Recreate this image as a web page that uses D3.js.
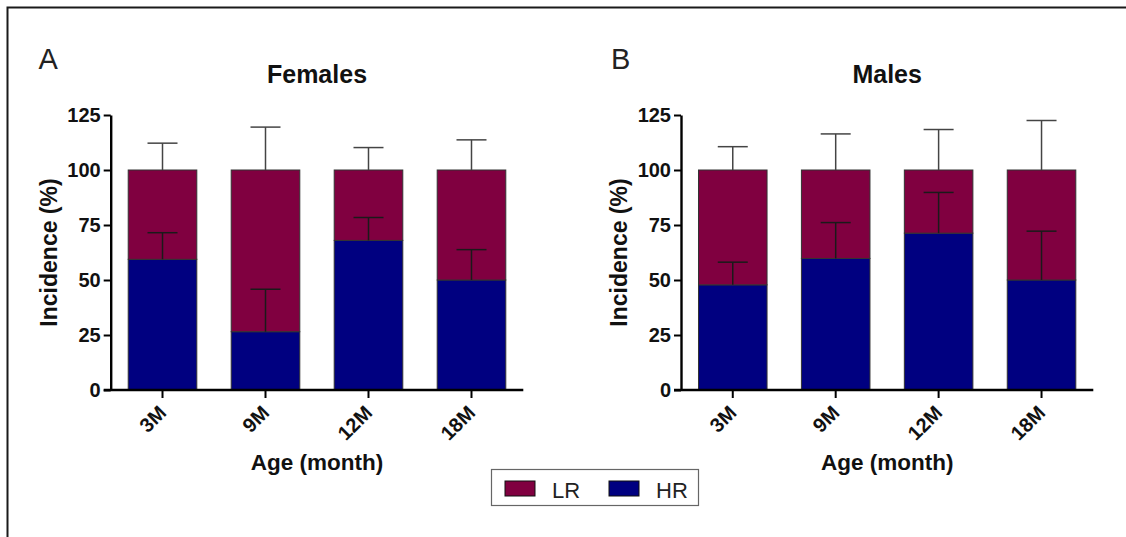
<!DOCTYPE html>
<html>
<head>
<meta charset="utf-8">
<script src="https://cdn.jsdelivr.net/npm/d3@7"></script>
<style>
  body { margin: 0; background: #fff; }
  svg { display: block; font-family: "Liberation Sans", Arial, sans-serif; }
</style>
</head>
<body>
<svg width="1126" height="537"></svg>
<script>
const categories = ['3M', '9M', '12M', '18M'];
const yTicks = [0, 25, 50, 75, 100, 125];

// HR share (%) and error bars; LR = 100 - HR
const femaleHR = [59.4, 26.5, 68.0, 50.0];
const femaleHRErr = [12.1, 19.3, 10.4, 13.8];
const femaleLRErr = [12.2, 19.5, 10.2, 13.7];

const maleHR = [47.8, 59.8, 71.3, 50.0];
const maleHRErr = [10.3, 16.3, 18.5, 22.2];
const maleLRErr = [10.6, 16.4, 18.4, 22.5];

const seriesNames = ['LR', 'HR'];
const colors = { LR: '#800040', HR: '#000080' };

const svg = d3.select('svg');

// outer frame (left + top edges)
svg.append('path')
    .attr('d', 'M7.5,537 V7.5 H1126')
    .attr('fill', 'none')
    .attr('stroke', '#1a1a1a')
    .attr('stroke-width', 2);

const panels = [
    { letter: 'A', title: 'Females', hr: femaleHR, hrErr: femaleHRErr, lrErr: femaleLRErr, left: 110.7, right: 523.3, letterX: 38.5 },
    { letter: 'B', title: 'Males', hr: maleHR, hrErr: maleHRErr, lrErr: maleLRErr, left: 681, right: 1093.3, letterX: 611 }
];

const plotTop = 115, plotBottom = 390;

panels.forEach(p => {
    const g = svg.append('g');

    const x = d3.scaleBand()
        .domain(categories)
        .range([p.left, p.right])
        .paddingInner(0.334)
        .paddingOuter(0.17);

    const y = d3.scaleLinear().domain([0, 125]).range([plotBottom, plotTop]);

    const rows = categories.map((c, i) => ({
        cat: c, hr: p.hr[i], lr: 100 - p.hr[i], hrErr: p.hrErr[i], lrErr: p.lrErr[i]
    }));
    const stack = d3.stack().keys(['hr', 'lr'])(rows);

    // bars
    g.selectAll('g.layer')
        .data(stack)
        .enter().append('g')
        .attr('class', 'layer')
        .attr('fill', d => d.key === 'hr' ? colors.HR : colors.LR)
        .selectAll('rect')
        .data(d => d)
        .enter().append('rect')
        .attr('x', d => x(d.data.cat))
        .attr('width', x.bandwidth())
        .attr('y', d => y(d[1]))
        .attr('height', d => y(d[0]) - y(d[1]))
        .attr('stroke', '#333')
        .attr('stroke-width', 1);

    // error bars (upward)
    const capW = 15;
    const errs = [];
    rows.forEach(r => {
        errs.push({ cat: r.cat, base: r.hr, end: r.hr + r.hrErr, color: '#1a1a1a' });
        errs.push({ cat: r.cat, base: 100, end: 100 + r.lrErr, color: '#444' });
    });
    const eg = g.selectAll('g.err').data(errs).enter().append('g')
        .attr('class', 'err')
        .attr('stroke', d => d.color)
        .attr('stroke-width', 1.5);
    eg.append('line')
        .attr('x1', d => x(d.cat) + x.bandwidth() / 2)
        .attr('x2', d => x(d.cat) + x.bandwidth() / 2)
        .attr('y1', d => y(d.base))
        .attr('y2', d => y(d.end));
    eg.append('line')
        .attr('x1', d => x(d.cat) + x.bandwidth() / 2 - capW)
        .attr('x2', d => x(d.cat) + x.bandwidth() / 2 + capW)
        .attr('y1', d => y(d.end))
        .attr('y2', d => y(d.end));

    // y axis
    const yAxis = g.append('g')
        .attr('transform', `translate(${p.left},0)`)
        .call(d3.axisLeft(y).tickValues(yTicks).tickSize(7).tickSizeOuter(0).tickPadding(3));
    yAxis.select('.domain').attr('stroke', '#000').attr('stroke-width', 2.4);
    yAxis.selectAll('.tick line').attr('stroke', '#000').attr('stroke-width', 2);
    yAxis.selectAll('.tick text')
        .attr('font-size', 20).attr('font-weight', 'bold').attr('fill', '#111')
        .attr('font-family', '"Liberation Sans", Arial, sans-serif');

    // x axis
    const xAxis = g.append('g')
        .attr('transform', `translate(0,${plotBottom})`)
        .call(d3.axisBottom(x).tickSize(8).tickSizeOuter(0));
    xAxis.select('.domain').attr('stroke', '#000').attr('stroke-width', 2.4)
        .attr('d', `M${p.left - 7},0H${p.right}`);
    xAxis.selectAll('.tick line').attr('stroke', '#000').attr('stroke-width', 2);
    xAxis.selectAll('.tick text')
        .attr('font-size', 20).attr('font-weight', 'bold').attr('fill', '#111')
        .attr('font-family', '"Liberation Sans", Arial, sans-serif')
        .attr('text-anchor', 'end')
        .attr('y', 0).attr('dy', 0)
        .attr('transform', 'translate(5,24) rotate(-45)');

    const cx = (p.left + p.right) / 2;

    // titles
    g.append('text')
        .attr('x', cx).attr('y', 82.5)
        .attr('text-anchor', 'middle')
        .attr('font-size', 25).attr('font-weight', 'bold').attr('fill', '#111')
        .text(p.title);

    g.append('text')
        .attr('x', p.letterX).attr('y', 68.5)
        .attr('font-size', 29).attr('fill', '#222')
        .text(p.letter);

    g.append('text')
        .attr('x', cx).attr('y', 470)
        .attr('text-anchor', 'middle')
        .attr('font-size', 22.5).attr('font-weight', 'bold').attr('fill', '#111')
        .text('Age (month)');

    g.append('text')
        .attr('transform', `translate(${p.left - 54},${(plotTop + plotBottom) / 2}) rotate(-90)`)
        .attr('text-anchor', 'middle')
        .attr('font-size', 23).attr('font-weight', 'bold').attr('fill', '#111')
        .text('Incidence (%)');
});

// legend
const legend = svg.append('g');
legend.append('rect')
    .attr('x', 491.5).attr('y', 469.5).attr('width', 207).attr('height', 36)
    .attr('fill', '#fff').attr('stroke', '#666').attr('stroke-width', 1.2);

const legX = d3.scalePoint().domain(seriesNames).range([505, 609]);
const item = legend.selectAll('g.item').data(seriesNames).enter().append('g')
    .attr('transform', d => `translate(${legX(d)},481)`);
item.append('rect')
    .attr('width', 30).attr('height', 15)
    .attr('fill', d => colors[d])
    .attr('stroke', '#111').attr('stroke-width', 1);
item.append('text')
    .attr('x', 47).attr('y', 16.5)
    .attr('font-size', 22).attr('fill', '#222')
    .text(d => d);
</script>
</body>
</html>
